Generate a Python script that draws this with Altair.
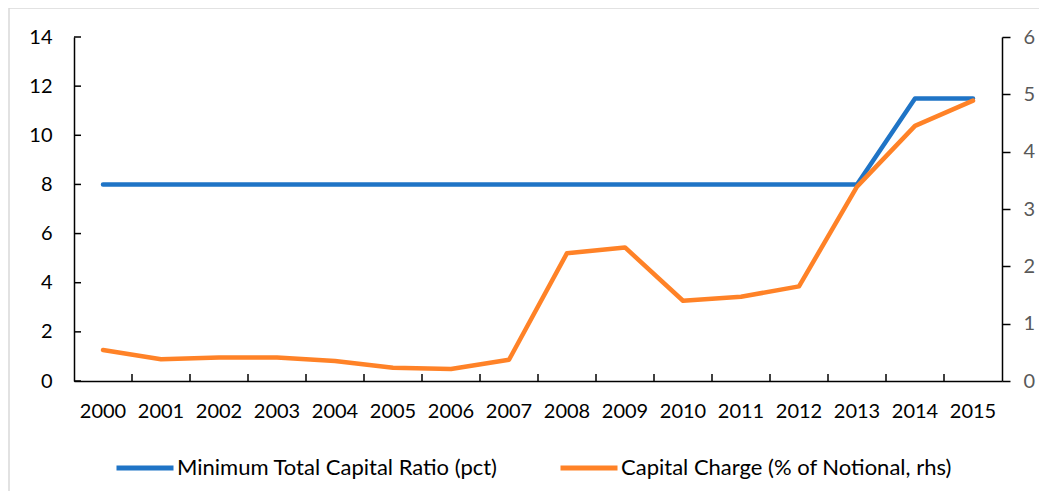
import altair as alt
import pandas as pd

years = ["2000", "2001", "2002", "2003", "2004", "2005", "2006", "2007",
         "2008", "2009", "2010", "2011", "2012", "2013", "2014", "2015"]
min_ratio = [8, 8, 8, 8, 8, 8, 8, 8, 8, 8, 8, 8, 8, 8, 11.5, 11.5]
capital_charge = [0.54, 0.38, 0.41, 0.41, 0.35, 0.23, 0.21, 0.37,
                  2.23, 2.33, 1.40, 1.47, 1.65, 3.39, 4.45, 4.89]
left_ticks = [0, 2, 4, 6, 8, 10, 12, 14]
right_ticks = [0, 1, 2, 3, 4, 5, 6]
inner_x_ticks = years[1:]

S1 = "Minimum Total Capital Ratio (pct)"
S2 = "Capital Charge (% of Notional, rhs)"

df1 = pd.DataFrame({"year": years, "value": min_ratio, "series": S1})
df2 = pd.DataFrame({"year": years, "value": capital_charge, "series": S2})
dly = pd.DataFrame({"v": left_ticks})
dlx = pd.DataFrame({"year": inner_x_ticks})

W, H = 928, 344
FONT = "Lato"

x_scale = alt.Scale(type="band", paddingInner=0, paddingOuter=0, domain=years)

color = alt.Color(
    "series:N",
    scale=alt.Scale(domain=[S1, S2], range=["#1F74C6", "#FF8227"]),
    legend=alt.Legend(
        title=None, orient="none", legendX=40, legendY=400, direction="horizontal",
        symbolType="stroke", symbolSize=3249, symbolStrokeWidth=5,
        labelFont=FONT, labelFontSize=22, labelColor="black", labelOffset=1,
        columnPadding=52, padding=0, labelLimit=500,
    ),
)

blue = alt.Chart(df1).mark_line(strokeWidth=4.5, strokeCap="round", strokeJoin="round").encode(
    x=alt.X("year:O", bandPosition=0.5, scale=x_scale,
            axis=alt.Axis(title=None, ticks=False, domainColor="black", domainWidth=1.5,
                          labelAngle=0, labelPadding=20, labelFont=FONT, labelFontSize=20,
                          labelColor="black")),
    y=alt.Y("value:Q", scale=alt.Scale(domain=[0, 14], nice=False, zero=True),
            axis=alt.Axis(title=None, values=left_ticks, ticks=False, domainColor="black",
                          domainWidth=1.5, labelPadding=22, labelFont=FONT, labelFontSize=20,
                          labelColor="black")),
    color=color,
)

yticks = alt.Chart(dly).mark_rule(color="black", strokeWidth=1.5).encode(
    y=alt.Y("v:Q"),
    x=alt.value(0),
    x2=alt.value(7),
)

xticks = alt.Chart(dlx).mark_rule(color="black", strokeWidth=1.5).encode(
    x=alt.X("year:O", bandPosition=0, scale=x_scale),
    y=alt.value(H - 7),
    y2=alt.value(H),
)

border = alt.Chart(pd.DataFrame({"a": [0]})).mark_rect(
    fill=None, stroke="#d9d9d9", strokeWidth=1.5
).encode(
    x=alt.value(-65), x2=alt.value(W + 80),
    y=alt.value(-29), y2=alt.value(H + 140),
)

left_layer = alt.layer(border, blue, yticks, xticks)

orange = alt.Chart(df2).mark_line(strokeWidth=4.5, strokeCap="round", strokeJoin="round").encode(
    x=alt.X("year:O", bandPosition=0.5, scale=x_scale),
    y=alt.Y("value:Q", scale=alt.Scale(domain=[0, 6], nice=False, zero=True),
            axis=alt.Axis(title=None, orient="right", values=right_ticks, tickSize=8,
                          tickColor="black", tickWidth=1.5, domainColor="black",
                          domainWidth=1.5, labelPadding=13, labelFont=FONT,
                          labelFontSize=20, labelColor="#595959")),
    color=color,
)

chart = alt.layer(left_layer, orange).resolve_scale(y="independent").properties(
    width=W, height=H,
    autosize=alt.AutoSizeParams(type="none"),
    padding={"left": 66, "top": 29, "right": 37, "bottom": 110},
).configure_axis(grid=False).configure_view(stroke=None)

chart.save("out.html", embed_options={"renderer": "svg", "actions": False})
